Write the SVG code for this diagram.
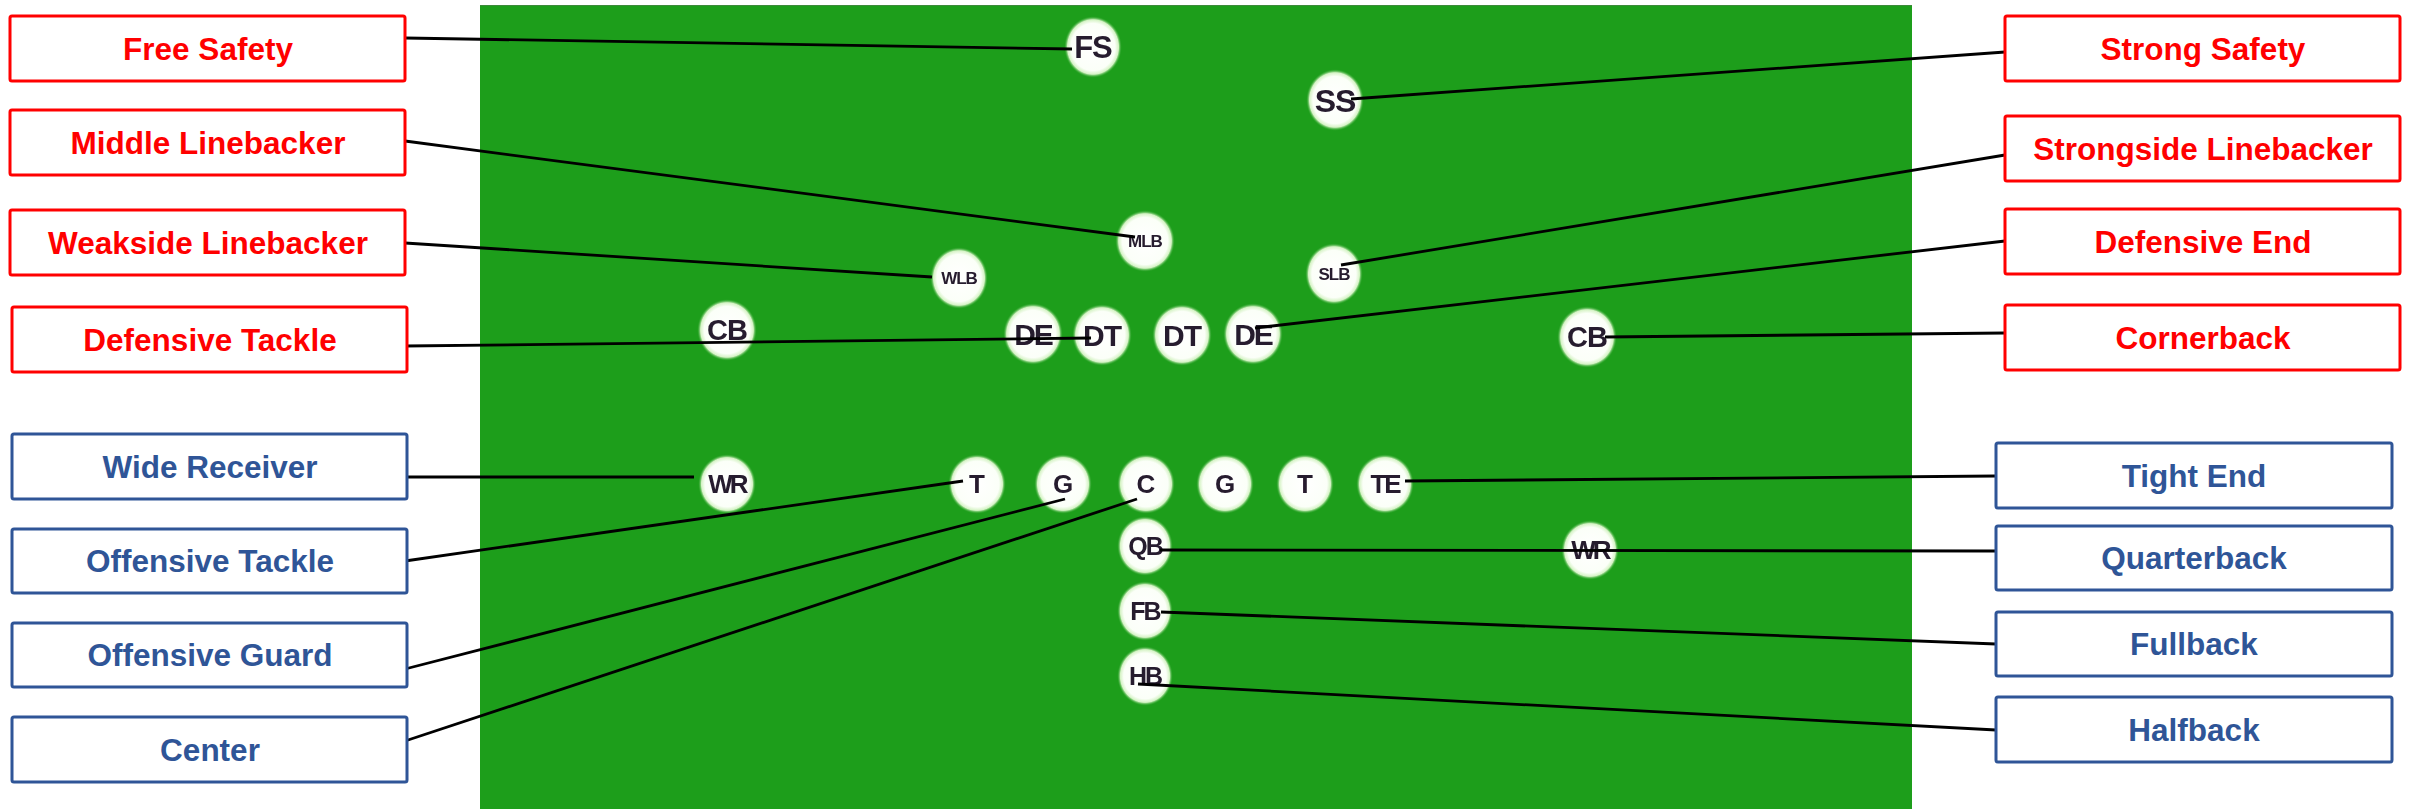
<svg xmlns="http://www.w3.org/2000/svg" width="2412" height="809" viewBox="0 0 2412 809">
<defs>
<radialGradient id="glow" cx="0.5" cy="0.5" r="0.5">
<stop offset="0" stop-color="#ffffff"/>
<stop offset="0.76" stop-color="#fbfff8"/>
<stop offset="0.88" stop-color="#d6f3c6"/>
<stop offset="1" stop-color="#1d9e1b" stop-opacity="0"/>
</radialGradient>
<filter id="soft" x="-20%" y="-20%" width="140%" height="140%"><feGaussianBlur stdDeviation="0.6"/></filter>
</defs>
<style>
.red rect{fill:#ffffff;stroke:#ff0000;stroke-width:3}
.red text{fill:#ff0000}
.blue rect{fill:#ffffff;stroke:#2f5597;stroke-width:3}
.blue text{fill:#2f5597}
.lbl{font-family:"Liberation Sans",Arial,sans-serif;font-weight:bold;font-size:31.5px;text-anchor:middle}
.p ellipse{fill:url(#glow)}
.p text{font-family:"Liberation Sans",Arial,sans-serif;font-weight:bold;fill:#261b2e;text-anchor:middle;filter:url(#soft)}
.conn line{stroke:#000000;stroke-width:2.8}
</style>
<rect x="0" y="0" width="2412" height="809" fill="#ffffff"/>
<rect id="field" x="480" y="5" width="1432" height="804" fill="#1d9e1b"/>
<line x1="480" y1="5.5" x2="1912" y2="5.5" stroke="#3d8a3a" stroke-width="1"/>

<g id="players">
<g id="p-fs" class="p"><ellipse cx="1093" cy="47" rx="29" ry="31"/><text x="1093" y="58" font-size="31" letter-spacing="-1">FS</text></g>
<g id="p-ss" class="p"><ellipse cx="1335" cy="100" rx="29" ry="31"/><text x="1335" y="112" font-size="32" letter-spacing="-1">SS</text></g>
<g id="p-mlb" class="p"><ellipse cx="1145" cy="241" rx="30" ry="31"/><text x="1145" y="247" font-size="17" letter-spacing="-1">MLB</text></g>
<g id="p-wlb" class="p"><ellipse cx="959" cy="278" rx="29" ry="31"/><text x="959" y="284" font-size="17" letter-spacing="-1">WLB</text></g>
<g id="p-slb" class="p"><ellipse cx="1334" cy="274" rx="29" ry="31"/><text x="1334" y="280" font-size="17" letter-spacing="-1">SLB</text></g>
<g id="p-cb1" class="p"><ellipse cx="727" cy="330" rx="30" ry="31"/><text x="727" y="340" font-size="29" letter-spacing="-1">CB</text></g>
<g id="p-de1" class="p"><ellipse cx="1033" cy="334" rx="30" ry="31"/><text x="1033" y="345" font-size="30" letter-spacing="-2">DE</text></g>
<g id="p-dt1" class="p"><ellipse cx="1102" cy="335" rx="30" ry="31"/><text x="1102" y="346" font-size="30" letter-spacing="-1">DT</text></g>
<g id="p-dt2" class="p"><ellipse cx="1182" cy="335" rx="30" ry="31"/><text x="1182" y="346" font-size="30" letter-spacing="-1">DT</text></g>
<g id="p-de2" class="p"><ellipse cx="1253" cy="334" rx="30" ry="31"/><text x="1253" y="345" font-size="30" letter-spacing="-2">DE</text></g>
<g id="p-cb2" class="p"><ellipse cx="1587" cy="337" rx="30" ry="31"/><text x="1587" y="347" font-size="29" letter-spacing="-1">CB</text></g>
<g id="p-wr1" class="p"><ellipse cx="727" cy="484" rx="29" ry="30"/><text x="727" y="493" font-size="26" letter-spacing="-3">WR</text></g>
<g id="p-t1" class="p"><ellipse cx="977" cy="484" rx="29" ry="30"/><text x="977" y="493" font-size="26">T</text></g>
<g id="p-g1" class="p"><ellipse cx="1063" cy="484" rx="29" ry="30"/><text x="1063" y="493" font-size="26">G</text></g>
<g id="p-c" class="p"><ellipse cx="1146" cy="484" rx="29" ry="30"/><text x="1146" y="493" font-size="26">C</text></g>
<g id="p-g2" class="p"><ellipse cx="1225" cy="484" rx="29" ry="30"/><text x="1225" y="493" font-size="26">G</text></g>
<g id="p-t2" class="p"><ellipse cx="1305" cy="484" rx="29" ry="30"/><text x="1305" y="493" font-size="26">T</text></g>
<g id="p-te" class="p"><ellipse cx="1385" cy="484" rx="29" ry="30"/><text x="1385" y="493" font-size="26" letter-spacing="-2">TE</text></g>
<g id="p-qb" class="p"><ellipse cx="1145" cy="546" rx="28" ry="30"/><text x="1145" y="555" font-size="25" letter-spacing="-2">QB</text></g>
<g id="p-wr2" class="p"><ellipse cx="1590" cy="550" rx="29" ry="30"/><text x="1590" y="559" font-size="26" letter-spacing="-3">WR</text></g>
<g id="p-fb" class="p"><ellipse cx="1145" cy="611" rx="28" ry="30"/><text x="1145" y="620" font-size="25" letter-spacing="-2">FB</text></g>
<g id="p-hb" class="p"><ellipse cx="1145" cy="676" rx="28" ry="30"/><text x="1145" y="685" font-size="25" letter-spacing="-2">HB</text></g>
</g>

<g id="connectors" class="conn">
<line x1="405" y1="38" x2="1072" y2="49"/>
<line x1="405" y1="141" x2="1135" y2="237"/>
<line x1="405" y1="243" x2="932" y2="277"/>
<line x1="405" y1="346" x2="1091" y2="338"/>
<line x1="2005" y1="52" x2="1351" y2="99"/>
<line x1="2005" y1="155" x2="1341" y2="265"/>
<line x1="2005" y1="241" x2="1255" y2="328"/>
<line x1="2005" y1="333" x2="1605" y2="337"/>
<line x1="405" y1="477" x2="694" y2="477"/>
<line x1="405" y1="561" x2="963" y2="481"/>
<line x1="405" y1="669" x2="1065" y2="499"/>
<line x1="405" y1="741" x2="1137" y2="499"/>
<line x1="1996" y1="476" x2="1405" y2="481"/>
<line x1="1996" y1="551" x2="1160" y2="550"/>
<line x1="1996" y1="644" x2="1161" y2="612"/>
<line x1="1996" y1="730" x2="1138" y2="684"/>
</g>

<g id="n-free-safety" class="red"><rect x="10" y="16" width="395" height="65" rx="2"/><text class="lbl" x="208" y="60">Free Safety</text></g>
<g id="n-middle-lb" class="red"><rect x="10" y="110" width="395" height="65" rx="2"/><text class="lbl" x="208" y="154">Middle Linebacker</text></g>
<g id="n-weakside-lb" class="red"><rect x="10" y="210" width="395" height="65" rx="2"/><text class="lbl" x="208" y="254">Weakside Linebacker</text></g>
<g id="n-def-tackle" class="red"><rect x="12" y="307" width="395" height="65" rx="2"/><text class="lbl" x="210" y="351">Defensive Tackle</text></g>

<g id="n-strong-safety" class="red"><rect x="2005" y="16" width="395" height="65" rx="2"/><text class="lbl" x="2203" y="60">Strong Safety</text></g>
<g id="n-strongside-lb" class="red"><rect x="2005" y="116" width="395" height="65" rx="2"/><text class="lbl" x="2203" y="160">Strongside Linebacker</text></g>
<g id="n-def-end" class="red"><rect x="2005" y="209" width="395" height="65" rx="2"/><text class="lbl" x="2203" y="253">Defensive End</text></g>
<g id="n-cornerback" class="red"><rect x="2005" y="305" width="395" height="65" rx="2"/><text class="lbl" x="2203" y="349">Cornerback</text></g>

<g id="n-wide-receiver" class="blue"><rect x="12" y="434" width="395" height="65" rx="2"/><text class="lbl" x="210" y="478">Wide Receiver</text></g>
<g id="n-off-tackle" class="blue"><rect x="12" y="529" width="395" height="64" rx="2"/><text class="lbl" x="210" y="572">Offensive Tackle</text></g>
<g id="n-off-guard" class="blue"><rect x="12" y="623" width="395" height="64" rx="2"/><text class="lbl" x="210" y="666">Offensive Guard</text></g>
<g id="n-center" class="blue"><rect x="12" y="717" width="395" height="65" rx="2"/><text class="lbl" x="210" y="761">Center</text></g>

<g id="n-tight-end" class="blue"><rect x="1996" y="443" width="396" height="65" rx="2"/><text class="lbl" x="2194" y="487">Tight End</text></g>
<g id="n-quarterback" class="blue"><rect x="1996" y="526" width="396" height="64" rx="2"/><text class="lbl" x="2194" y="569">Quarterback</text></g>
<g id="n-fullback" class="blue"><rect x="1996" y="612" width="396" height="64" rx="2"/><text class="lbl" x="2194" y="655">Fullback</text></g>
<g id="n-halfback" class="blue"><rect x="1996" y="697" width="396" height="65" rx="2"/><text class="lbl" x="2194" y="741">Halfback</text></g>
</svg>
